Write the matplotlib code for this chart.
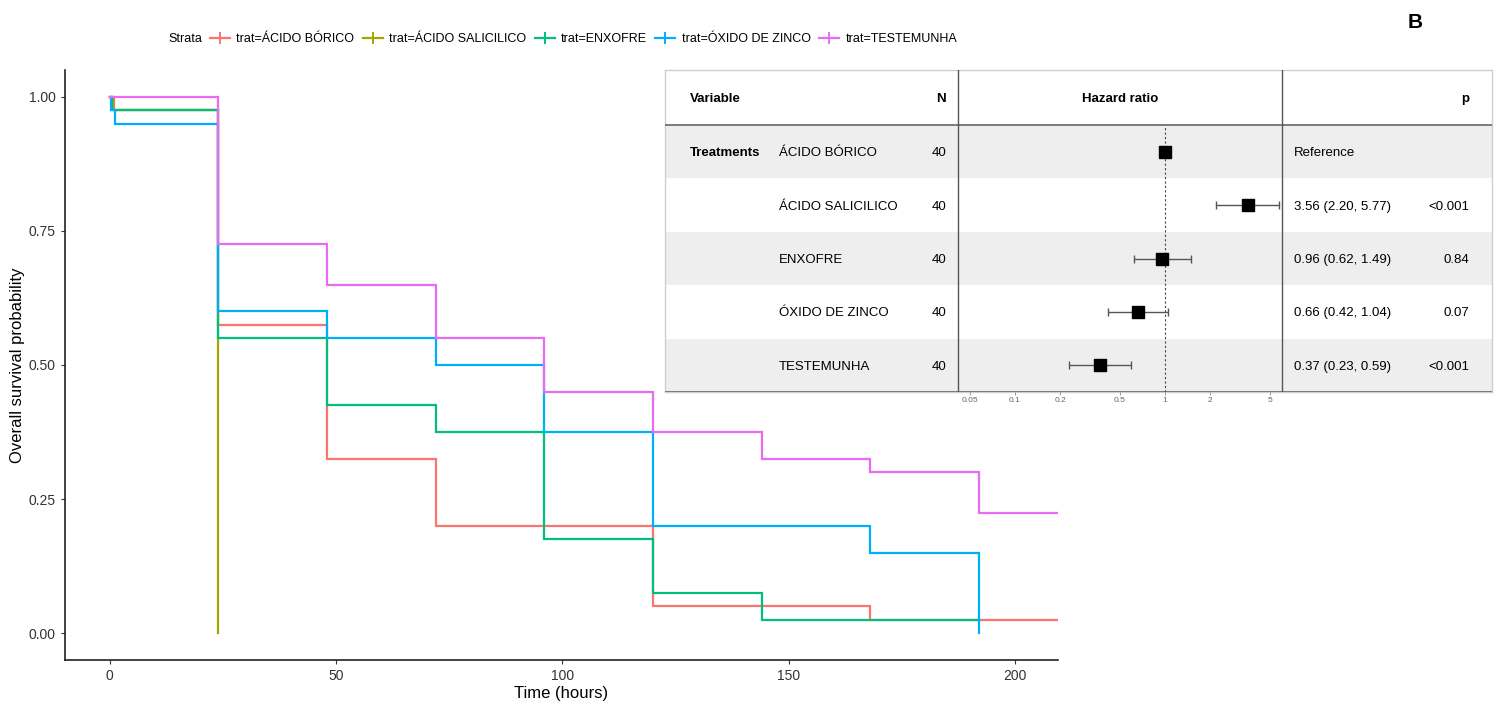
import numpy as np
import matplotlib
matplotlib.use("Agg")
import matplotlib.pyplot as plt
from matplotlib.lines import Line2D
from matplotlib.patches import Rectangle

plt.rcParams["font.family"] = ["Liberation Sans", "DejaVu Sans"]

# Kaplan-Meier estimates per treatment (time in hours, survival probability)
strata = ["trat=ÁCIDO BÓRICO", "trat=ÁCIDO SALICILICO", "trat=ENXOFRE",
          "trat=ÓXIDO DE ZINCO", "trat=TESTEMUNHA"]
colors = ["#F8766D", "#A3A500", "#00BF7D", "#00B0F6", "#E76BF3"]

t_borico = [0, 1, 24, 48, 72, 120, 168, 216]
s_borico = [1.0, 0.975, 0.575, 0.325, 0.2, 0.05, 0.025, 0.025]
t_salicilico = [0, 0.75, 24]
s_salicilico = [1.0, 0.975, 0.0]
t_enxofre = [0, 0.5, 24, 48, 72, 96, 120, 144, 192]
s_enxofre = [1.0, 0.975, 0.55, 0.425, 0.375, 0.175, 0.075, 0.025, 0.025]
t_zinco = [0, 0.25, 1.25, 24, 48, 72, 96, 120, 168, 192]
s_zinco = [1.0, 0.975, 0.95, 0.6, 0.55, 0.5, 0.375, 0.2, 0.15, 0.0]
t_testemunha = [0, 24, 48, 72, 96, 120, 144, 168, 192, 216]
s_testemunha = [1.0, 0.725, 0.65, 0.55, 0.45, 0.375, 0.325, 0.3, 0.225, 0.225]

curves = [(t_borico, s_borico), (t_salicilico, s_salicilico),
          (t_enxofre, s_enxofre), (t_zinco, s_zinco),
          (t_testemunha, s_testemunha)]

# Cox model summary (reference = ÁCIDO BÓRICO)
levels = ["ÁCIDO BÓRICO", "ÁCIDO SALICILICO", "ENXOFRE", "ÓXIDO DE ZINCO", "TESTEMUNHA"]
n_obs = [40, 40, 40, 40, 40]
hr = [1.0, 3.56, 0.96, 0.66, 0.37]
hr_lo = [np.nan, 2.20, 0.62, 0.42, 0.23]
hr_hi = [np.nan, 5.77, 1.49, 1.04, 0.59]
hr_text = ["Reference", "3.56 (2.20, 5.77)", "0.96 (0.62, 1.49)",
           "0.66 (0.42, 1.04)", "0.37 (0.23, 0.59)"]
p_text = ["", "<0.001", "0.84", "0.07", "<0.001"]
hr_ticks = [0.05, 0.1, 0.2, 0.5, 1, 2, 5]

W, H = 1502, 704
fig = plt.figure(figsize=(W / 100, H / 100), dpi=100)


def fx(px):
    return px / W


def fy(py):
    return 1 - py / H


# region survival curves
ax = fig.add_axes([fx(65), fy(660), fx(1058 - 65), (660 - 70) / H])
for (t, s), c in zip(curves, colors):
    ax.step(t, s, where="post", color=c, lw=1.6, solid_joinstyle="miter")

ax.set_xlim(-9.9, 209.5)
ax.set_ylim(-0.05, 1.05)
ax.set_xticks([0, 50, 100, 150, 200])
ax.set_yticks([0, 0.25, 0.5, 0.75, 1.0])
ax.yaxis.set_major_formatter(plt.FuncFormatter(lambda v, _: f"{v:.2f}"))
ax.tick_params(labelsize=10, length=3, width=0.8, color="#333333",
               labelcolor="#333333")
ax.set_xlabel("Time (hours)", fontsize=12, labelpad=2)
ax.set_ylabel("Overall survival probability", fontsize=12, labelpad=3)
for side in ("top", "right"):
    ax.spines[side].set_visible(False)
for side in ("left", "bottom"):
    ax.spines[side].set_linewidth(1.2)
    ax.spines[side].set_color("#222222")
# endregion

# region legend
fig.text(fx(168), fy(39), "Strata", fontsize=9, va="center", ha="left")
handles = [Line2D([0], [0], color=c, lw=1.6, marker="+", markersize=8,
                  markeredgewidth=1.4) for c in colors]
fig.legend(handles, strata, loc="center left",
           bbox_to_anchor=(fx(210), fy(39)), ncol=5, frameon=False,
           fontsize=9, handlelength=1.6, handletextpad=0.5,
           columnspacing=0.68, borderaxespad=0, borderpad=0)
fig.text(fx(1415), fy(22), "B", fontsize=15, fontweight="bold",
         ha="center", va="center")
# endregion

# region hazard-ratio table
box_l, box_r, box_t, box_b = 665, 1492, 70, 392
header_h = 55 / ((box_b - box_t - 55) / 5)  # header height in row units
n_rows = len(levels)
ytop = n_rows + header_h

tab = fig.add_axes([fx(box_l), fy(box_b), fx(box_r - box_l), (box_b - box_t) / H])
tab.set_xlim(0, 1)
tab.set_ylim(0, ytop)
tab.set_xticks([])
tab.set_yticks([])
for sp in tab.spines.values():
    sp.set_color("#cfcfcf")
    sp.set_linewidth(1.0)

for i in range(n_rows):
    y0 = n_rows - i - 1
    if i % 2 == 0:
        tab.add_patch(Rectangle((0, y0), 1, 1, color="#eeeeee", lw=0, zorder=0))

col_var = (690 - box_l) / (box_r - box_l)
col_lvl = (779 - box_l) / (box_r - box_l)
col_n = (946 - box_l) / (box_r - box_l)
col_hr = (1120 - box_l) / (box_r - box_l)
col_est = (1294 - box_l) / (box_r - box_l)
col_p = (1469 - box_l) / (box_r - box_l)
sep1 = (958 - box_l) / (box_r - box_l)
sep2 = (1282 - box_l) / (box_r - box_l)

tab.axhline(n_rows, color="#666666", lw=1.2, zorder=3)
tab.axhline(0.0, color="#666666", lw=1.2, zorder=3)
tab.axvline(sep1, color="#555555", lw=1.0, zorder=3)
tab.axvline(sep2, color="#555555", lw=1.0, zorder=3)

yh = n_rows + header_h / 2
fs = 9.5
va = "center_baseline"
tab.text(col_var, yh, "Variable", fontsize=fs, fontweight="bold", va=va)
tab.text(col_n, yh, "N", fontsize=fs, fontweight="bold", va=va, ha="right")
tab.text(col_hr, yh, "Hazard ratio", fontsize=fs, fontweight="bold",
         va=va, ha="center")
tab.text(col_p, yh, "p", fontsize=fs, fontweight="bold", va=va, ha="right")

for i in range(n_rows):
    yc = n_rows - i - 0.5
    if i == 0:
        tab.text(col_var, yc, "Treatments", fontsize=fs, fontweight="bold", va=va)
    tab.text(col_lvl, yc, levels[i], fontsize=fs, va=va)
    tab.text(col_n, yc, str(n_obs[i]), fontsize=fs, va=va, ha="right")
    tab.text(col_est, yc, hr_text[i], fontsize=fs, va=va)
    tab.text(col_p, yc, p_text[i], fontsize=fs, va=va, ha="right")

# forest column on a log scale
fr = fig.add_axes([fx(958), fy(box_b), fx(1282 - 958), (box_b - box_t) / H])
fr.patch.set_alpha(0)
fr.set_xscale("log")
fr.set_xlim(10 ** (-1.38), 10 ** 0.78)
fr.set_ylim(0, ytop)
fr.set_yticks([])
fr.set_xticks(hr_ticks)
fr.set_xticklabels([f"{v:g}" for v in hr_ticks])
fr.xaxis.set_minor_locator(matplotlib.ticker.NullLocator())
fr.tick_params(axis="x", labelsize=6, length=2, width=0.6, pad=1.5,
               color="#888888", labelcolor="#666666")
for sp in fr.spines.values():
    sp.set_visible(False)
fr.plot([1, 1], [0, n_rows], ls=(0, (2, 2)), color="#444444", lw=0.8, zorder=2)

ys = [n_rows - i - 0.5 for i in range(n_rows)]
for y, h, lo, hi in zip(ys, hr, hr_lo, hr_hi):
    if not np.isnan(lo):
        fr.errorbar([h], [y], xerr=[[h - lo], [hi - h]], fmt="none",
                    ecolor="#555555", elinewidth=1.0, capsize=3, capthick=1.0,
                    zorder=3, clip_on=False)
fr.scatter(hr, ys, marker="s", s=70, color="black", zorder=4)
# endregion

fig.savefig("out.png", dpi=100)
